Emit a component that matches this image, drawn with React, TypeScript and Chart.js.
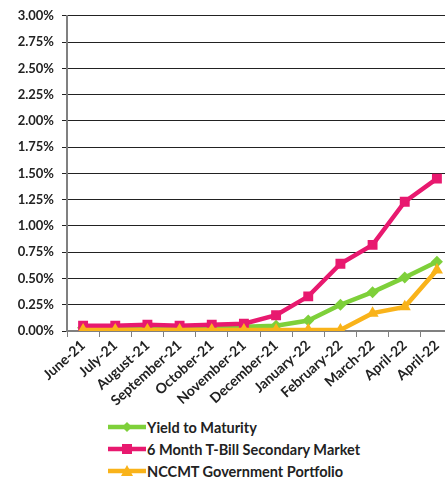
import React, { useEffect, useRef } from "react";
import { Chart, registerables } from "chart.js";

Chart.register(...registerables);

const categories = [
  "June-21", "July-21", "August-21", "September-21", "October-21", "November-21",
  "December-21", "January-22", "February-22", "March-22", "April-22", "April-22",
];
const yieldToMaturity = [0.03, 0.03, 0.03, 0.03, 0.03, 0.04, 0.05, 0.1, 0.25, 0.37, 0.51, 0.66];
const tBill6Month = [0.05, 0.05, 0.06, 0.05, 0.06, 0.07, 0.15, 0.33, 0.64, 0.82, 1.23, 1.45];
const nccmtGov = [0.01, 0.01, 0.01, 0.01, 0.01, 0.01, 0.01, 0.01, 0.01, 0.17, 0.23, 0.58];

const GREEN = "#7ED03A";
const PINK = "#E8196F";
const ORANGE = "#F9B31A";
const FONT = "Lato, 'Open Sans', sans-serif";

const legendItems = [
  { label: "Yield to Maturity", color: GREEN, shape: "diamond" },
  { label: "6 Month T-Bill Secondary Market", color: PINK, shape: "square" },
  { label: "NCCMT Government Portfolio", color: ORANGE, shape: "triangle" },
];

function Marker({ color, shape }: { color: string; shape: string }) {
  return (
    <svg width="40" height="14" style={{ display: "block" }}>
      <line x1="1" y1="7" x2="39" y2="7" stroke={color} strokeWidth="4.5" />
      {shape === "diamond" && <polygon points="20,2 25,7 20,12 15,7" fill={color} />}
      {shape === "square" && <rect x="15" y="2" width="10" height="10" fill={color} />}
      {shape === "triangle" && <polygon points="20,1 26,12 14,12" fill={color} />}
    </svg>
  );
}

export default function App() {
  const ref = useRef<HTMLCanvasElement>(null);
  useEffect(() => {
    const ctx = ref.current!;
    const chart = new Chart(ctx, {
      type: "line",
      data: {
        labels: categories,
        datasets: [
          {
            label: "Yield to Maturity",
            data: yieldToMaturity,
            borderColor: GREEN,
            backgroundColor: GREEN,
            borderWidth: 4.5,
            pointStyle: "rectRot",
            pointRadius: 6,
            pointBorderWidth: 0,
            order: 3,
          },
          {
            label: "6 Month T-Bill Secondary Market",
            data: tBill6Month,
            borderColor: PINK,
            backgroundColor: PINK,
            borderWidth: 4.5,
            pointStyle: "rect",
            pointRadius: 7,
            pointBorderWidth: 0,
            order: 2,
          },
          {
            label: "NCCMT Government Portfolio",
            data: nccmtGov,
            borderColor: ORANGE,
            backgroundColor: ORANGE,
            borderWidth: 4.5,
            pointStyle: "triangle",
            pointRadius: 7,
            pointBorderWidth: 0,
            order: 1,
          },
        ],
      },
      options: {
        animation: false,
        responsive: false,
        layout: { padding: { top: 8, right: 3, left: 0, bottom: 0 } },
        plugins: { legend: { display: false }, tooltip: { enabled: false } },
        scales: {
          x: {
            offset: true,
            grid: {
              offset: true,
              drawOnChartArea: false,
              drawTicks: true,
              tickLength: 6,
              color: "#808080",
            },
            border: { color: "#808080", width: 2 },
            ticks: {
              maxRotation: 42,
              minRotation: 42,
              autoSkip: false,
              color: "#222",
              font: { family: FONT, weight: "bold", size: 14 },
              padding: 0,
            },
            afterFit: (s: any) => {
              s.height = 84;
            },
          },
          y: {
            min: 0,
            max: 3,
            ticks: {
              stepSize: 0.25,
              color: "#222",
              font: { family: FONT, weight: "bold", size: 13 },
              padding: 8,
              callback: (v: any) => Number(v).toFixed(2) + "%",
            },
            grid: { color: "#222", lineWidth: 1, tickLength: 5 },
            border: { color: "#808080", width: 2 },
            afterFit: (s: any) => {
              s.width = 67;
            },
          },
        },
      },
    });
    return () => chart.destroy();
  }, []);

  return (
    <div
      style={{
        position: "fixed",
        left: 0,
        top: 0,
        width: 445,
        height: 478,
        overflow: "hidden",
        background: "#fff",
      }}
    >
      <canvas ref={ref} width={460} height={415} style={{ position: "absolute", left: 0, top: 0 }} />
      <div style={{ position: "absolute", left: 107, top: 416 }}>
        {legendItems.map((it) => (
          <div
            key={it.label}
            style={{
              display: "flex",
              alignItems: "center",
              height: 22,
              fontFamily: FONT,
              fontWeight: "bold",
              fontSize: 14.5,
              color: "#222",
            }}
          >
            <Marker color={it.color} shape={it.shape} />
            <span>{it.label}</span>
          </div>
        ))}
      </div>
    </div>
  );
}
